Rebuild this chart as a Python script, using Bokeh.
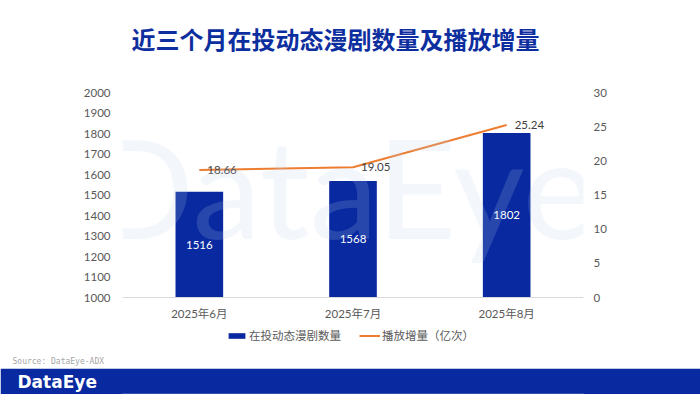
from bokeh.plotting import figure
from bokeh.models import (FactorRange, Range1d, LinearAxis, FixedTicker, Legend, LegendItem,
                          Label, Title, Span, BoxAnnotation)
from bokeh.layouts import column
from bokeh.embed import file_html
from bokeh.resources import INLINE
from bokeh.core.properties import value

# ---- data ----
months = ["2025年6月", "2025年7月", "2025年8月"]
drama_counts = [1516, 1568, 1802]
play_increase = [18.66, 19.05, 25.24]
left_ticks = [1000, 1100, 1200, 1300, 1400, 1500, 1600, 1700, 1800, 1900, 2000]
right_ticks = [0, 5, 10, 15, 20, 25, 30]
title_text = "近三个月在投动态漫剧数量及播放增量"
bar_name = "在投动态漫剧数量"
line_name = "播放增量（亿次）"
source_text = "Source: DataEye-ADX"
brand = "DataEye"

# ---- layout constants (pixels) ----
W = 700
MAIN_H, FOOT_H = 368, 26
BL, BR, BB = 122, 117, 14
FRAME_BOTTOM = MAIN_H - BB          # canvas y where the frame ends
AX_TOP, AX_BOTTOM = 92, 297         # pixel rows of the value axes' top / bottom
L_LO, L_HI = 1000, 2000
R_LO, R_HI = 0, 30
kl = (L_HI - L_LO) / (AX_BOTTOM - AX_TOP)
kr = (R_HI - R_LO) / (AX_BOTTOM - AX_TOP)

BLUE = "#08299F"
TITLE_BLUE = "#0D2E9E"
ORANGE = "#ED7D31"
CJK = "Noto Sans CJK SC"
NUM = "Lato, Noto Sans CJK SC"
GREY = "#595959"

p = figure(width=W, height=MAIN_H, x_range=FactorRange(factors=months, range_padding=0),
           y_range=Range1d(L_LO - (FRAME_BOTTOM - AX_BOTTOM) * kl, L_HI + AX_TOP * kl),
           output_backend="svg", toolbar_location=None, x_axis_location=None,
           min_border_left=BL, min_border_right=BR, min_border_top=0, min_border_bottom=BB,
           outline_line_color=None)
p.grid.visible = False
p.extra_y_ranges = {"right": Range1d(R_LO - (FRAME_BOTTOM - AX_BOTTOM) * kr, R_HI + AX_TOP * kr)}
raxis = LinearAxis(y_range_name="right", ticker=FixedTicker(ticks=right_ticks))
p.add_layout(raxis, "right")
p.yaxis[0].ticker = FixedTicker(ticks=left_ticks)

for ax in p.yaxis:
    ax.axis_line_color = None
    ax.major_tick_line_color = None
    ax.minor_tick_line_color = None
    ax.major_tick_out = 0
    ax.major_label_text_color = GREY
    ax.major_label_text_font = NUM
    ax.major_label_text_font_size = "11.5px"
p.yaxis[0].major_label_standoff = 12
raxis.major_label_standoff = 10

# category baseline
p.add_layout(Span(location=L_LO, dimension="width", line_color="#d9d9d9", line_width=1))

bars = p.vbar(x=months, top=drama_counts, bottom=L_LO, width=0.31,
              fill_color=BLUE, line_color=None)
ln = p.line(x=months, y=play_increase, y_range_name="right",
            line_color=ORANGE, line_width=2)

p.text(x=months, y=play_increase, text=[f"{v:.2f}" for v in play_increase],
       y_range_name="right", x_offset=8, text_align="left", text_baseline="middle",
       text_font=value("Lato"), text_font_size="11.5px", text_color="#404040")

p.text(x=months, y=[(L_LO + v) / 2 for v in drama_counts], text=[str(v) for v in drama_counts],
       text_align="center", text_baseline="middle",
       text_font=value("Lato"), text_font_size="11.5px", text_color="white")

# category labels under the baseline
p.text(x=months, y=[L_LO] * len(months), text=months, y_offset=16,
       text_align="center", text_baseline="middle",
       text_font=value(NUM), text_font_size="11.5px", text_color=GREY)

wm = Label(x=1.43, y=1546, text=brand, text_font="Lato", text_font_size="138px",
           text_color="#bcd4ee", text_alpha=0.18, text_align="center", text_baseline="middle")
p.add_layout(wm)

# chart title (inside the frame, top area)
p.add_layout(Label(x=1.386, y=L_HI + (AX_TOP - 38) * kl, text=title_text,
                   text_font=CJK, text_font_size="24px", text_font_style="bold",
                   text_color=TITLE_BLUE, text_align="center", text_baseline="middle"))

legend = Legend(items=[LegendItem(label=bar_name, renderers=[bars]),
                       LegendItem(label=line_name, renderers=[ln])],
                orientation="horizontal", location=(226 - BL, FRAME_BOTTOM - 343),
                glyph_width=21, glyph_height=7, label_standoff=2, spacing=18,
                padding=0, margin=0, label_height=14,
                border_line_color=None, background_fill_alpha=0,
                label_text_font=CJK, label_text_font_size="11.5px",
                label_text_color=GREY)
p.add_layout(legend)

# source line in the bottom border
p.add_layout(Title(text=source_text, align="left", offset=12 - BL, standoff=0,
                   text_font="DejaVu Sans Mono", text_font_size="8px", text_font_style="normal",
                   text_color="#a6a6a6"), "below")

# banner
f = figure(width=W, height=FOOT_H, output_backend="svg", toolbar_location=None,
           x_axis_location=None, y_axis_location=None, outline_line_color=None,
           min_border_left=BL, min_border_right=BR, min_border_top=0, min_border_bottom=0,
           border_fill_color=BLUE, background_fill_color=BLUE)
f.grid.visible = False
f.add_layout(BoxAnnotation(fill_color=BLUE, fill_alpha=1.0, line_color=None))
f.add_layout(Title(text=brand, align="left", offset=17 - BL, standoff=3,
                   text_font="DejaVu Sans", text_font_size="17px", text_font_style="bold",
                   text_line_height=1.0, text_color="white"), "above")

layout = column(p, f, spacing=0)
open("out.html", "w").write(file_html(layout, INLINE))
